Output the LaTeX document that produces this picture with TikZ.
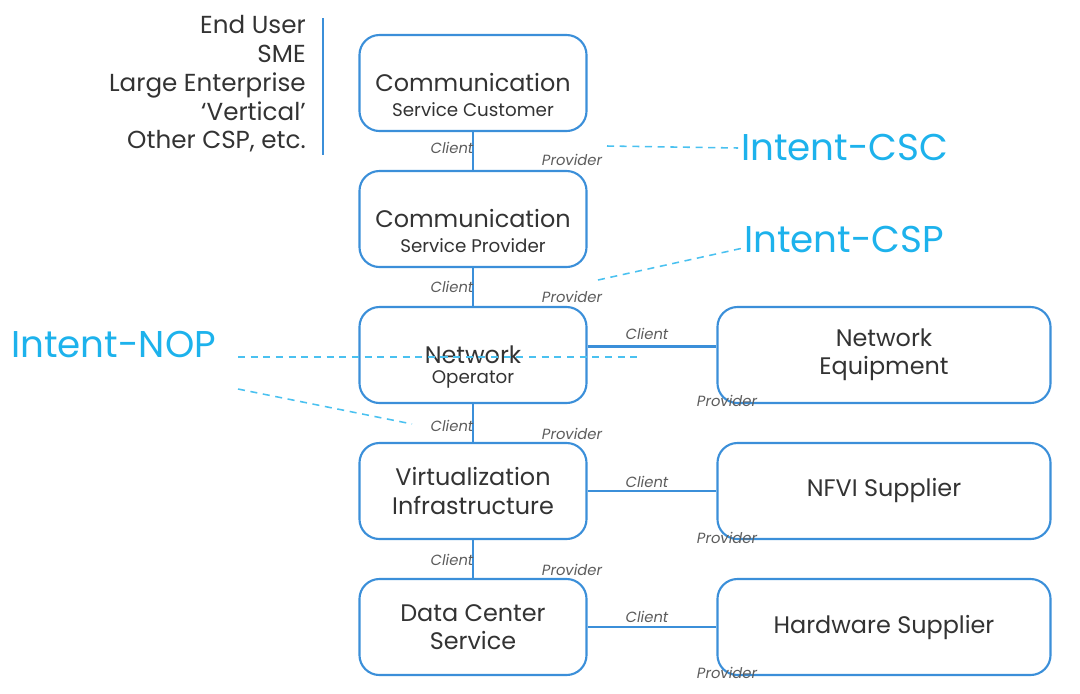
\documentclass[tikz,border=0pt]{standalone}
\usepackage{fontspec}
\setmainfont{Poppins}
\usetikzlibrary{positioning}
\definecolor{boxblue}{HTML}{3B8FD9}
\definecolor{intentcyan}{HTML}{1DB2EC}
\definecolor{txtgray}{HTML}{333333}
\tikzset{
  box/.style={draw=boxblue, line width=1.5pt, rounded corners=0.5cm,
    minimum width=5.675cm, minimum height=2.4cm, text=txtgray,
    align=center, font=\fontsize{17}{20}\selectfont},
  widebox/.style={box, minimum width=8.325cm},
  big/.style={text=txtgray, inner sep=0pt, font=\fontsize{17}{20}\selectfont},
  small/.style={text=txtgray, inner sep=0pt, font=\fontsize{13}{15}\selectfont},
  link/.style={draw=boxblue, line width=1.6pt},
  role/.style={text=txtgray!80, inner sep=1pt, font=\fontsize{10.5}{12}\selectfont\itshape},
  intent/.style={text=intentcyan, inner sep=0pt, font=\fontsize{26.5}{30}\selectfont},
  intentline/.style={draw=intentcyan!80, line width=1.1pt, dash pattern=on 5pt off 4pt}
}
\begin{document}
\begin{tikzpicture}[x=0.025cm, y=-0.025cm]
\useasboundingbox (0,0) rectangle (1080,693);
% left column of boxes
\node[box] (csc) at (473,83) {};
\node[big] (csctop) at (473,83) {Communication};
\node[small] (cscbot) at (473,110) {Service Customer};
\node[box] (csp) at (473,219) {};
\node[big] (csptop) at (473,219) {Communication};
\node[small] (cspbot) at (473,246) {Service Provider};
\node[box] (nop) at (473,355) {};
\node[big] (noptop) at (473,355) {Network};
\node[small] (nopbot) at (473,379) {Operator};
\node[box] (vi) at (473,491) {Virtualization\\Infrastructure};
\node[box] (dc) at (473,627) {Data Center\\Service};
% right column
\node[widebox] (ne) at (884,355) {Network\\Equipment};
\node[widebox] (nfvi) at (884,491) {NFVI Supplier};
\node[widebox] (hw) at (884,627) {Hardware Supplier};
% customers
\node[anchor=east, align=right, text=txtgray, inner sep=0pt,
  font=\fontsize{17.5}{20.4}\selectfont] (users) at (306,84)
  {End User\\SME\\Large Enterprise\\‘Vertical’\\Other CSP, etc.};
\coordinate (bartop) at (323,18);
\coordinate (barbot) at (323,155);
\draw[link] (bartop) -- (barbot);
% connectors
\draw[link] (csc) -- (csp);
\draw[link] (csp) -- (nop);
\draw[link] (nop) -- (vi);
\draw[link] (vi) -- (dc);
\draw[link] ([yshift=6pt]nop.east) -- ([yshift=6pt]ne.west);
\draw[link] (vi) -- (nfvi);
\draw[link] (dc) -- (hw);
% client / provider
\node[role] (c1) at (452,148) {Client};
\node[role] (p1) at (572,160) {Provider};
\node[role] (c2) at (452,287) {Client};
\node[role] (p2) at (572,297) {Provider};
\node[role] (c3) at (452,426) {Client};
\node[role] (p3) at (572,434) {Provider};
\node[role] (c4) at (452,560) {Client};
\node[role] (p4) at (572,570) {Provider};
\node[role] (c5) at (647,334) {Client};
\node[role] (p5) at (727,401) {Provider};
\node[role] (c6) at (647,482) {Client};
\node[role] (p6) at (727,538) {Provider};
\node[role] (c7) at (647,617) {Client};
\node[role] (p7) at (727,673) {Provider};
% intents
\node[intent, anchor=west] (icsc) at (741,148) {Intent-CSC};
\node[intent, anchor=west] (icsp) at (744,240) {Intent-CSP};
\node[intent, anchor=west] (inop) at (11,345) {Intent-NOP};
\coordinate (cscend) at (607,146);
\coordinate (cspend) at (598,280);
\coordinate (nopa) at (238,357);
\coordinate (nopaend) at (640,357);
\coordinate (nopb) at (238,389);
\coordinate (nopbend) at (412,424);
\draw[intentline] (cscend) -- ([xshift=-2pt]icsc.west);
\draw[intentline] (cspend) -- ([xshift=-2pt,yshift=-6pt]icsp.west);
\draw[intentline] (nopa) -- (nopaend);
\draw[intentline] (nopb) -- (nopbend);
\end{tikzpicture}
\end{document}
